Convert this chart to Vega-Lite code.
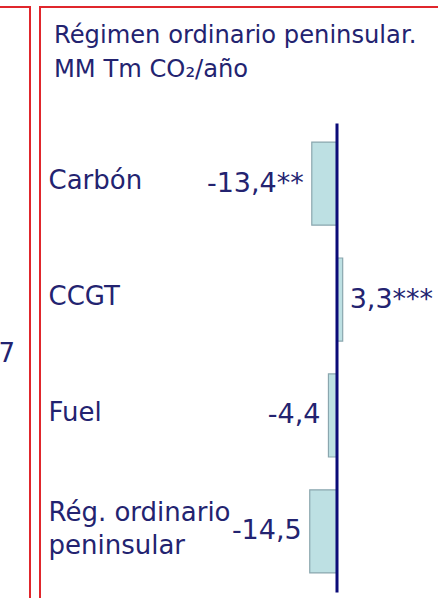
{
  "$schema": "https://vega.github.io/schema/vega-lite/v6.json",
  "background": "white",
  "padding": {"left": -21, "top": 6, "right": 0, "bottom": 0},
  "spacing": 8,
  "config": {
    "view": {"stroke": "#e0262c", "strokeWidth": 2},
    "font": "DejaVu Sans"
  },
  "hconcat": [
    {
      "width": 50,
      "height": 600,
      "view": {"stroke": "#e0262c", "strokeWidth": 2, "fill": "white"},
      "title": {
        "text": "7",
        "orient": "top",
        "anchor": "end",
        "frame": "group",
        "offset": -360,
        "dx": -15,
        "fontSize": 26,
        "fontWeight": "normal",
        "font": "DejaVu Sans",
        "color": "#232370",
        "baseline": "top"
      },
      "data": {"values": [{"texto": ""}]},
      "mark": {"type": "text"},
      "encoding": {"text": {"field": "texto"}}
    },
    {
      "width": 400,
      "height": 600,
      "view": {"stroke": "#e0262c", "strokeWidth": 2, "fill": "white"},
      "title": {
        "text": ["Régimen ordinario peninsular.", "MM Tm CO₂/año"],
        "orient": "top",
        "anchor": "start",
        "frame": "group",
        "offset": -75,
        "dx": 14,
        "fontSize": 24.2,
        "fontWeight": "normal",
        "font": "DejaVu Sans",
        "color": "#232370",
        "lineHeight": 34,
        "baseline": "top"
      },
      "data": {
        "values": [
          {"categoria": "Carbón", "valor": -13.4, "etiqueta": "-13,4**"},
          {"categoria": "CCGT", "valor": 3.3, "etiqueta": "3,3***"},
          {"categoria": "Fuel", "valor": -4.4, "etiqueta": "-4,4"},
          {"categoria": "Rég. ordinario|peninsular", "valor": -14.5, "etiqueta": "-14,5"}
        ]
      },
      "encoding": {
        "y": {
          "field": "categoria",
          "type": "nominal",
          "sort": null,
          "scale": {"range": [116, 585], "paddingInner": 0.283, "paddingOuter": 0.165},
          "axis": {
            "title": null,
            "orient": "left",
            "offset": -296.5,
            "zindex": 1,
            "domainColor": "#0b0b78",
            "domainWidth": 3,
            "ticks": false,
            "grid": false,
            "labelAlign": "left",
            "labelBaseline": "middle",
            "labelPadding": 288.5,
            "labelFont": "DejaVu Sans",
            "labelFontSize": 26,
            "labelColor": "#232370",
            "labelLimit": 0,
            "labelLineHeight": 33,
            "labelOffset": {"condition": {"test": "indexof(datum.value, '|') >= 0", "value": -18}, "value": -2.5},
            "labelExpr": "split(datum.label, '|')"
          }
        },
        "x": {
          "field": "valor",
          "type": "quantitative",
          "scale": {"domain": [-160.3, 55.9], "nice": false, "zero": false},
          "axis": null
        }
      },
      "layer": [
        {
          "mark": {"type": "bar", "fill": "#bde0e3", "stroke": "#8aa6ae", "strokeWidth": 1.2},
          "encoding": {"x2": {"datum": 0}}
        },
        {
          "mark": {
            "type": "text",
            "font": "DejaVu Sans",
            "fontSize": 27,
            "color": "#232370",
            "baseline": "middle",
            "align": {"expr": "datum.valor < 0 ? 'right' : 'left'"},
            "dx": {"expr": "datum.valor < 0 ? -8 : 7"}
          },
          "encoding": {"text": {"field": "etiqueta"}}
        }
      ]
    }
  ]
}
